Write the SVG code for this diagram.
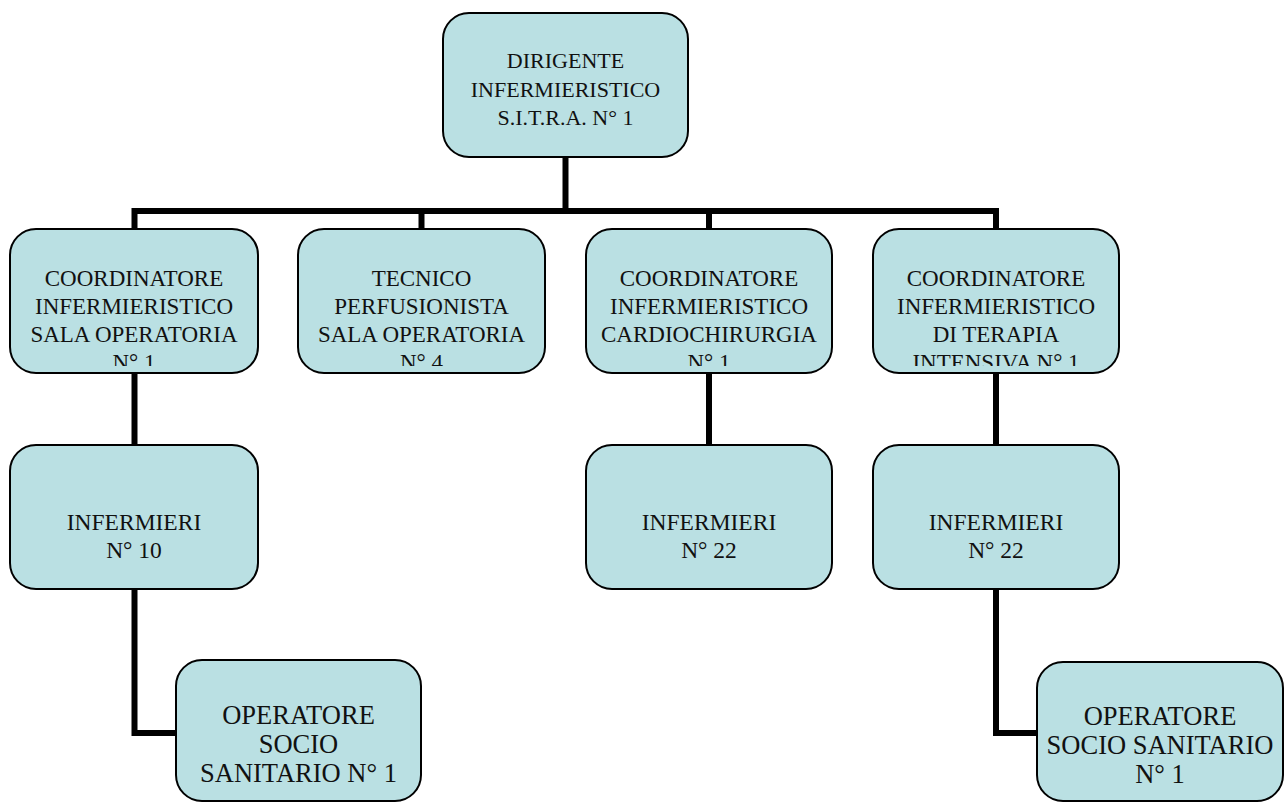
<svg xmlns="http://www.w3.org/2000/svg" width="1286" height="802" viewBox="0 0 1286 802">
<style>
.box{fill:#BAE0E3;stroke:#000;stroke-width:2}
.t{font-family:"Liberation Serif","Times New Roman",serif;fill:#111;text-anchor:middle}
.f22{font-size:22px}
.fc{font-size:23px}
.f23{font-size:23.5px}
.f26{font-size:26.5px}
.con{fill:none;stroke:#000;stroke-width:6;stroke-linejoin:miter}
</style>
<defs>
<clipPath id="c1"><rect x="0" y="229" width="1286" height="137"/></clipPath>
</defs>
<rect width="1286" height="802" fill="#fff"/>
<g id="connectors">
<path class="con" d="M565.5 157 V211"/>
<path class="con" d="M134.5 228 V211 H996 V228"/>
<path class="con" d="M421.5 211 V228"/>
<path class="con" d="M709 211 V228"/>
<path class="con" d="M134.5 373 V445"/>
<path class="con" d="M134.5 589 V733 H176"/>
<path class="con" d="M709 373 V445"/>
<path class="con" d="M996 373 V445"/>
<path class="con" d="M996 589 V733 H1037"/>
</g>
<g id="n-dirigente">
<rect class="box" x="443" y="13" width="245" height="144" rx="26"/>
<text class="t f22" x="565.5" y="68">DIRIGENTE</text>
<text class="t f22" x="565.5" y="97">INFERMIERISTICO</text>
<text class="t f22" x="565.5" y="125">S.I.T.R.A.  N° 1</text>
</g>
<g id="n-coord-so">
<rect class="box" x="10" y="229" width="248" height="144" rx="26"/>
<g clip-path="url(#c1)">
<text class="t fc" x="134" y="286">COORDINATORE</text>
<text class="t fc" x="134" y="314">INFERMIERISTICO</text>
<text class="t fc" x="134" y="342">SALA OPERATORIA</text>
<text class="t fc" x="134" y="370">N° 1</text>
</g>
</g>
<g id="n-tecnico">
<rect class="box" x="298" y="229" width="247" height="144" rx="26"/>
<g clip-path="url(#c1)">
<text class="t fc" x="421.5" y="286">TECNICO</text>
<text class="t fc" x="421.5" y="314">PERFUSIONISTA</text>
<text class="t fc" x="421.5" y="342">SALA OPERATORIA</text>
<text class="t fc" x="421.5" y="370">N° 4</text>
</g>
</g>
<g id="n-coord-cc">
<rect class="box" x="586" y="229" width="246" height="144" rx="26"/>
<g clip-path="url(#c1)">
<text class="t fc" x="709" y="286">COORDINATORE</text>
<text class="t fc" x="709" y="314">INFERMIERISTICO</text>
<text class="t fc" x="709" y="342">CARDIOCHIRURGIA</text>
<text class="t fc" x="709" y="370">N° 1</text>
</g>
</g>
<g id="n-coord-ti">
<rect class="box" x="873" y="229" width="246" height="144" rx="26"/>
<g clip-path="url(#c1)">
<text class="t fc" x="996" y="286">COORDINATORE</text>
<text class="t fc" x="996" y="314">INFERMIERISTICO</text>
<text class="t fc" x="996" y="342">DI TERAPIA</text>
<text class="t fc" x="996" y="370">INTENSIVA N° 1</text>
</g>
</g>
<g id="n-inf-so">
<rect class="box" x="10" y="445" width="248" height="144" rx="26"/>
<text class="t f23" x="134" y="530">INFERMIERI</text>
<text class="t f23" x="134" y="558">N° 10</text>
</g>
<g id="n-inf-cc">
<rect class="box" x="586" y="445" width="246" height="144" rx="26"/>
<text class="t f23" x="709" y="530">INFERMIERI</text>
<text class="t f23" x="709" y="558">N° 22</text>
</g>
<g id="n-inf-ti">
<rect class="box" x="873" y="445" width="246" height="144" rx="26"/>
<text class="t f23" x="996" y="530">INFERMIERI</text>
<text class="t f23" x="996" y="558">N° 22</text>
</g>
<g id="n-oss-so">
<rect class="box" x="176" y="660" width="245" height="141" rx="26"/>
<text class="t f26" x="298.5" y="724">OPERATORE</text>
<text class="t f26" x="298.5" y="753">SOCIO</text>
<text class="t f26" x="298.5" y="782">SANITARIO N° 1</text>
</g>
<g id="n-oss-ti">
<rect class="box" x="1037" y="662" width="246" height="139" rx="26"/>
<text class="t f26" x="1160" y="725">OPERATORE</text>
<text class="t f26" x="1160" y="754">SOCIO SANITARIO</text>
<text class="t f26" x="1160" y="783">N° 1</text>
</g>
</svg>
